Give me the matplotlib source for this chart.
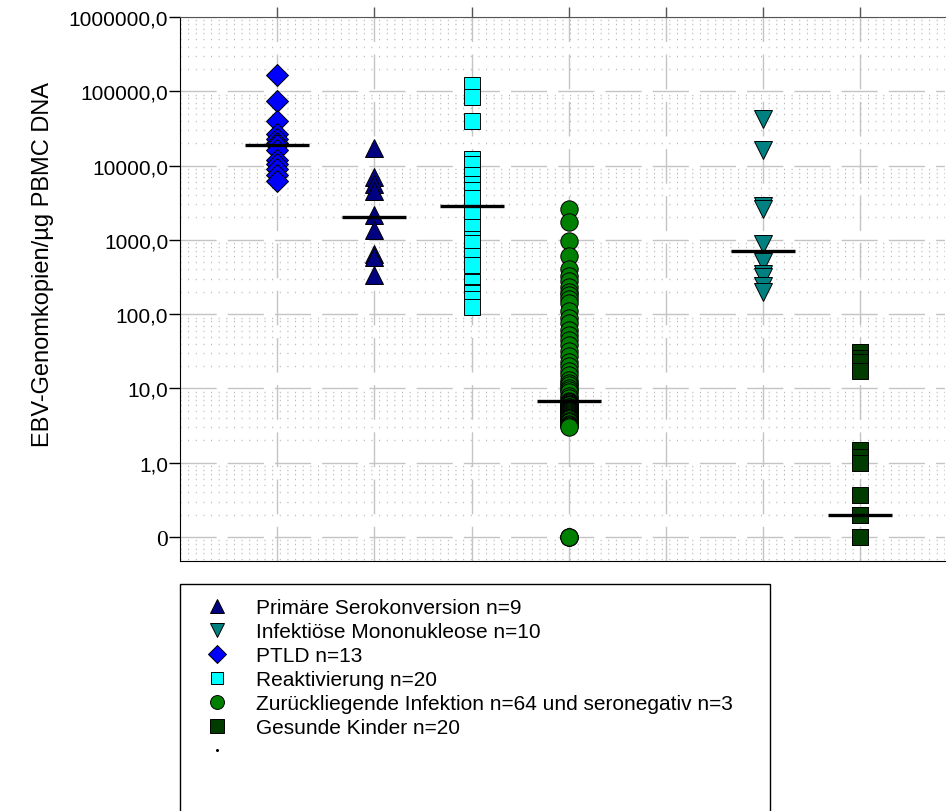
import numpy as np
import matplotlib
matplotlib.use("Agg")
import matplotlib.pyplot as plt
from matplotlib.lines import Line2D
from matplotlib.patches import Rectangle
from matplotlib.ticker import LogLocator, NullFormatter

plt.rcParams['font.family'] = ['Liberation Sans', 'DejaVu Sans']

# EBV-Genomkopien/µg PBMC DNA (0 = below detection)
ptld = [165000, 74000, 40000, 27000, 23000, 20000, 19000, 16000, 12000,
        10500, 9000, 7500, 6200]
primaer = [17200, 7000, 5600, 4500, 2150, 1350, 640, 590, 340]
reakt = [123000, 83500, 39300, 12200, 10500, 7450, 5640, 4680, 3610, 2270,
         1500, 1025, 895, 605, 458, 273, 200, 190, 160, 126]
zurueck = [2600, 1750, 960, 600, 400, 330, 280, 230, 200, 180, 160, 140,
           110, 90, 75, 62, 52, 45, 38, 32, 27, 23, 20, 17, 15, 13, 12, 11,
           10, 9.5, 9, 8, 7.5,
           6.8, 6.6, 6.5, 6.3, 6.1, 6.0, 5.9, 5.7, 5.6, 5.5, 5.3, 5.2, 5.0,
           5.0, 4.9, 4.8, 4.6, 4.5, 4.4, 4.3, 4.1, 4.0, 4.0, 3.9, 3.7, 3.6,
           3.5, 3.3, 3.2, 3.1, 3.0,
           0, 0, 0]
mono = [42300, 16200, 2850, 2600, 878, 502, 347, 316, 239, 198]
gesund = [31, 26, 23, 17, 1.5, 1.2, 1.0, 0.37, 0.2, 0.2, 0.2,
          0, 0, 0, 0, 0, 0, 0, 0, 0]

# horizontal bars (median) as seen in the picture
medians = [19000, 2000, 2900, 6.8, 700, 0.2]
positions = [1, 2, 3, 4, 6, 7]

labels = ["PTLD n=13", "Primäre Serokonversion n=9", "Reaktivierung n=20",
          "Zurückliegende Infektion n=64 und seronegativ n=3",
          "Infektiöse Mononukleose n=10", "Gesunde Kinder n=20"]
data = [ptld, primaer, reakt, zurueck, mono, gesund]
markers = ['D', '^', 's', 'o', 'v', 's']
sizes = [11, 12.5, 11.5, 12.5, 13, 12]
colors = ['#0000ff', '#000080', '#00ffff', '#008000', '#008080', '#003c00']

yticks = [1e6, 1e5, 1e4, 1e3, 1e2, 10, 1, 0.1]
ytick_labels = ['1000000,0', '100000,0', '10000,0', '1000,0', '100,0',
                '10,0', '1,0', '0']
ZERO_POS = 0.1  # zero values are drawn on the "0" line

fig = plt.figure(figsize=(9.47, 8.12), dpi=100)
ax = fig.add_axes([180 / 947, 1 - 562 / 812, 765 / 947, 544 / 812])
ax.set_yscale('log')
ax.set_ylim(10 ** (-1 - 24 / 74.3), 1e6)
ax.set_xlim(0, 765 / 97.2)

handles = {}
for pos, vals, lab, m, s, c in zip(positions, data, labels, markers, sizes, colors):
    v = np.array(vals, dtype=float)
    v = np.where(v == 0, ZERO_POS, v)
    h, = ax.plot(np.full(len(v), pos), v, ls='none', marker=m, ms=s,
                 mfc=c, mec='black', mew=0.7, zorder=3)
    handles[lab] = h

ax.hlines(medians, np.array(positions) - 0.33, np.array(positions) + 0.33,
          colors='black', lw=2.4, zorder=4)

# grid
ax.set_axisbelow(True)
ax.yaxis.set_minor_locator(LogLocator(base=10, subs=range(2, 10), numticks=100))
ax.yaxis.set_minor_formatter(NullFormatter())
ax.yaxis.grid(True, which='major', color='#c4c4c4', lw=1.0, ls=(0, (26, 8)))
ax.yaxis.grid(True, which='minor', color='#b4b4b4', lw=1.0, ls=(0, (0.7, 4.8)))
ax.xaxis.grid(True, which='major', color='#c4c4c4', lw=1.0, ls=(0, (25, 9)))

ax.set_yticks(yticks)
ax.set_yticklabels(ytick_labels, fontsize=15)
zl = ax.get_yticklabels()[-1]
zl.set_family('Liberation Serif')
zl.set_fontsize(17)
ax.tick_params(axis='y', which='major', direction='out', length=8, width=1, pad=0.5)
ax.tick_params(axis='y', which='minor', length=0)

ax.xaxis.tick_top()
ax.set_xticks(range(1, 8))
ax.set_xticklabels([])
ax.tick_params(axis='x', direction='out', length=7, width=1, color='#555555')

ax.spines['right'].set_visible(False)
ax.spines['top'].set_color('#555555')
ax.spines['left'].set_color('black')
ax.spines['bottom'].set_color('black')

ax.set_ylabel('EBV-Genomkopien/µg PBMC DNA', fontsize=17)
ax.yaxis.set_label_coords(-0.165, 0.546)

# legend below the plot
order = ["Primäre Serokonversion n=9", "Infektiöse Mononukleose n=10",
         "PTLD n=13", "Reaktivierung n=20",
         "Zurückliegende Infektion n=64 und seronegativ n=3",
         "Gesunde Kinder n=20"]
leg_handles = [handles[k] for k in order]
leg_handles.append(Line2D([], [], ls='none', marker='.', ms=3, color='black'))
leg = fig.legend(leg_handles, order + [''], loc='upper left',
                 bbox_to_anchor=(204 / 947, 1 - 599 / 812), frameon=False,
                 fontsize=15, numpoints=1, markerscale=0.8,
                 handlelength=1.2, handletextpad=1.3, labelspacing=0.24,
                 borderpad=0, borderaxespad=0)
fig.add_artist(Rectangle((180 / 947, -0.05), 590 / 947, 0.05 + 1 - 585 / 812,
                         transform=fig.transFigure, fill=False,
                         ec='black', lw=1.0))

fig.savefig('out.png', dpi=100)
